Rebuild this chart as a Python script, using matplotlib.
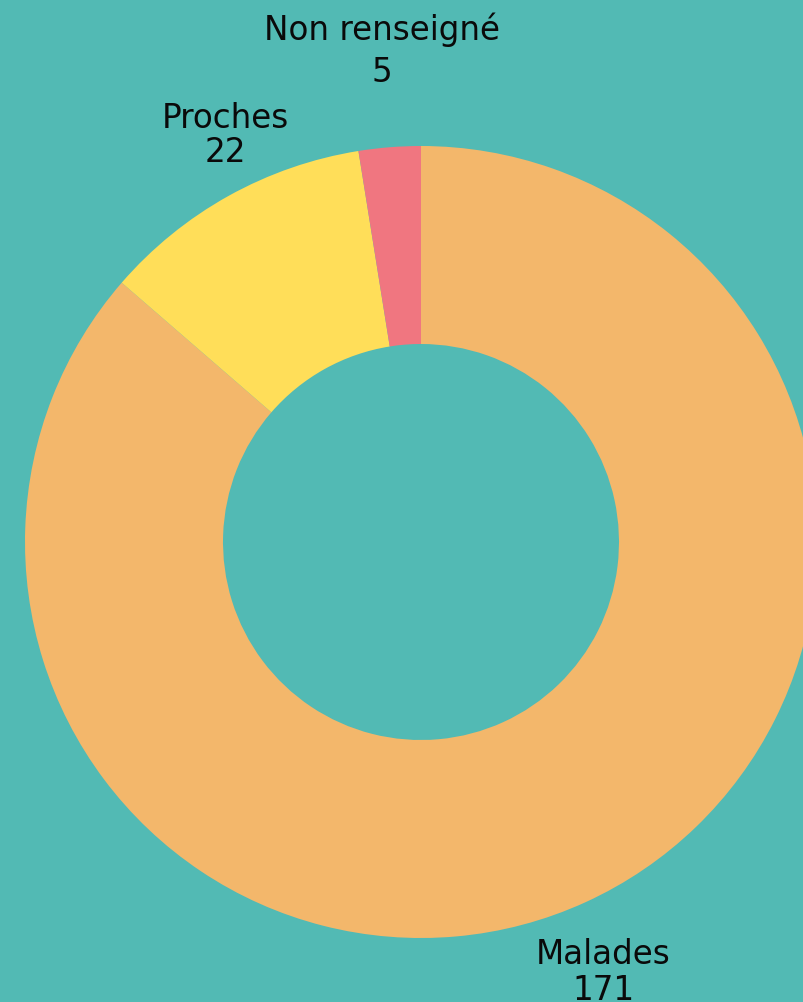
import numpy as np
import matplotlib
matplotlib.use("Agg")
import matplotlib.pyplot as plt

categories = ["Malades", "Proches", "Non renseigné"]
values = [171, 22, 5]
colors = ["#F3B76B", "#FFDE59", "#F07680"]
bg = "#52BAB4"

W, H, DPI = 804, 1003, 100
fig = plt.figure(figsize=(W / DPI, H / DPI), dpi=DPI, facecolor=bg)
ax = fig.add_axes([0, 0, 1, 1])
ax.set_facecolor(bg)

R_PX = 396.0
cx, cy = 421.0, 1003 - 543.0

wedges, _ = ax.pie(values, colors=colors, startangle=90, counterclock=False,
                   radius=1.0, wedgeprops=dict(width=0.5, linewidth=0),
                   frame=False)
ax.set_xlim(-cx / R_PX, (W - cx) / R_PX)
ax.set_ylim(-cy / R_PX, (H - cy) / R_PX)
ax.set_aspect("equal")
ax.axis("off")

# label anchors (in units of the outer radius): x, y of name line, y of value line
label_pos = [(0.460, -1.040, -1.129),
             (-0.495, 1.071, 0.985),
             (-0.098, 1.295, 1.189)]
for cat, v, (x, y1, y2) in zip(categories, values, label_pos):
    ax.text(x, y1, cat, ha="center", va="center", fontsize=23.5,
            family="DejaVu Sans", color="#0a0a0a")
    ax.text(x, y2, str(v), ha="center", va="center", fontsize=23.5,
            family="DejaVu Sans", color="#0a0a0a")

fig.savefig("out.png", dpi=DPI, facecolor=bg)
